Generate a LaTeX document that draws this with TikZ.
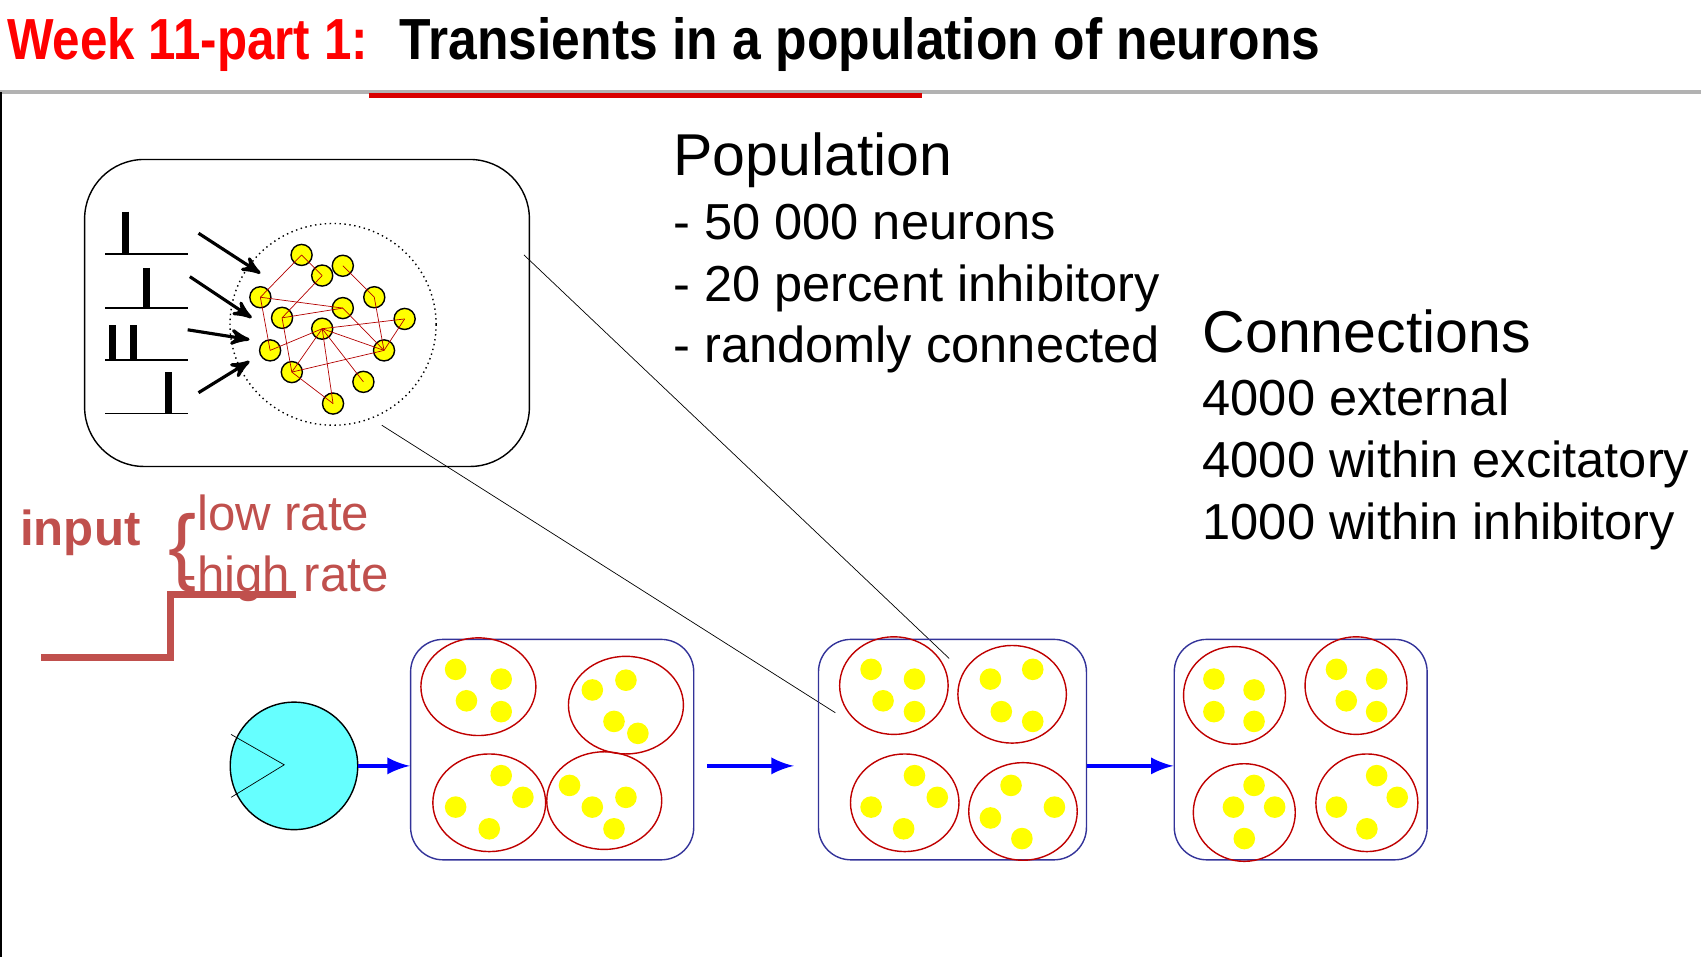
\documentclass[tikz,border=0pt]{standalone}
\usepackage{fontspec}
\setmainfont{Liberation Sans}
\usetikzlibrary{arrows,positioning}
\definecolor{titlered}{RGB}{255,0,0}
\definecolor{inred}{RGB}{192,80,77}
\definecolor{navy}{RGB}{51,51,153}
\definecolor{cyanfill}{RGB}{102,255,255}
\definecolor{dotyellow}{RGB}{255,255,0}
\newcommand\pxu[1]{#1*0.3075pt}
\tikzset{
  neuron/.style = {circle, draw=black, fill=dotyellow, inner sep=0pt,
    minimum size=\pxu{19.5}},
  dot/.style = {circle, fill=dotyellow, inner sep=0pt, minimum size=\pxu{20}},
  popbox/.style = {draw=navy, rounded corners=\pxu{30}, thin, inner sep=0pt},
  group/.style = {draw=red!75!black, thin},
  link/.style = {draw=red!70!black, very thin},
  bluearrow/.style = {-latex, draw=blue, line width=1.2pt},
  txt/.style = {anchor=base west, inner sep=0pt},
}
\begin{document}
\begin{tikzpicture}[x=0.1085mm,y=-0.1085mm]
\useasboundingbox (0,0) rectangle (1568,882);
% title
\node[txt, text=titlered] (week) at (6,55) {\scalebox{0.85}[1]{\fontsize{16.5pt}{18pt}\selectfont\bfseries Week 11-part 1:}};
\node[txt] (title) at (368,55) {\scalebox{0.89}[1]{\fontsize{16.5pt}{18pt}\selectfont\bfseries Transients in a population of neurons}};
\draw[gray!60, line width=1pt] (0,85) -- (1568,85);
\draw[red!85!black, line width=1.2pt] (340,88) -- (850,88);
\draw[black] (1,85) -- (1,882);
% zoomed inset
\draw[black, rounded corners=\pxu{55}] (78,147) rectangle (488,430);
\draw[black, densely dotted] (307,299) ellipse [x radius=95, y radius=93];
\foreach \y in {234,284,332,381} \draw (97,\y) -- (173,\y);
\foreach \x/\ya/\yb in {116/195/234, 135/247/284, 104/300/332, 123/300/332, 155/343/381}
  \draw[line width=2pt] (\x,\ya) -- (\x,\yb);
\foreach \xa/\ya/\xb/\yb in {183/215/240/252, 175/255/232/293, 173/304/230/313, 183/362/230/333}
  \draw[->, >=stealth', line width=0.9pt] (\xa,\ya) -- (\xb,\yb);
\foreach \n/\x/\y in {1/278/235, 2/297/254, 3/316/245, 4/240/274, 5/345/274, 6/316/284,
  7/260/293, 8/373/294, 9/297/303, 10/249/323, 11/354/323, 12/269/343, 13/335/352, 14/307/372}
  \node[neuron] (n\n) at (\x,\y) {};
\foreach \a/\b in {1/4, 1/2, 3/5, 4/6, 2/7, 7/6, 4/10, 7/12, 10/9, 9/8, 9/11, 5/11, 6/11,
  8/11, 12/11, 12/14, 9/14, 9/13, 9/12}
  \draw[link] (n\a.center) -- (n\b.center);
% population text
\node[txt] (pophead) at (620,162) {\fontsize{16.8pt}{18pt}\selectfont Population};
\node[txt] (pop1) at (620,221) {\fontsize{14.4pt}{16pt}\selectfont - 50 000 neurons};
\node[txt] (pop2) at (620,278) {\fontsize{14.4pt}{16pt}\selectfont - 20 percent inhibitory};
\node[txt] (pop3) at (620,334) {\fontsize{14.4pt}{16pt}\selectfont - randomly connected};
\node[txt] (conhead) at (1108,325) {\fontsize{16.8pt}{18pt}\selectfont Connections};
\node[txt] (con1) at (1108,383) {\fontsize{14.4pt}{16pt}\selectfont 4000 external};
\node[txt] (con2) at (1108,440) {\fontsize{14.4pt}{16pt}\selectfont 4000 within excitatory};
\node[txt] (con3) at (1108,497) {\fontsize{14.4pt}{16pt}\selectfont 1000 within inhibitory};
% input
\node[txt, text=inred] (input) at (18,503) {\fontsize{14pt}{16pt}\selectfont\bfseries input};
\node[txt, text=inred] (brace) at (155,530) {\fontsize{24pt}{24pt}\selectfont\{};
\node[txt, text=inred] (low) at (166,489) {\fontsize{14pt}{16pt}\selectfont -low rate};
\node[txt, text=inred] (high) at (166,545) {\fontsize{14pt}{16pt}\selectfont -high rate};
\draw[inred, line width=2pt] (38,606) -- (157,606) -- (157,548) -- (273,548);
% zoom lines
\coordinate (za) at (483,235);
\coordinate (zb) at (875,607);
\coordinate (zc) at (352,392);
\coordinate (zd) at (770,657);
\draw[very thin] (za) -- (zb);
\draw[very thin] (zc) -- (zd);
% stimulus
\node[draw=black, fill=cyanfill, circle, minimum size=\pxu{118}, inner sep=0pt] (stim) at (271,706) {};
\draw[very thin] (213,677) -- (262,705) -- (213,735);
% populations
\node[popbox, minimum width=\pxu{262}, minimum height=\pxu{204}] (box1) at (509,691) {};
\node[popbox, minimum width=\pxu{248}, minimum height=\pxu{204}] (box2) at (878,691) {};
\node[popbox, minimum width=\pxu{234}, minimum height=\pxu{204}] (box3) at (1199,691) {};
\draw[bluearrow] (stim.east) -- ([shift={(0,15)}]box1.west);
\draw[bluearrow] ([shift={(12,15)}]box1.east) -- ([shift={(-22,15)}]box2.west);
\draw[bluearrow] ([shift={(0,15)}]box2.east) -- ([shift={(0,15)}]box3.west);
\foreach \x/\y/\rx in {441/633/53, 577/650/53, 451/740/52, 557/738/53,
  824/632/50, 933/640/50, 834/740/50, 943/748/50,
  1138/641/47, 1250/632/47, 1147/749/47, 1260/740/47}
  \draw[group] (\x,\y) ellipse [x radius=\rx, y radius=45];
\foreach \x/\y in {420/617, 462/626, 430/646, 462/656, 546/636, 577/627, 566/665, 588/676,
  462/715, 482/735, 420/744, 451/764, 525/724, 546/744, 577/735, 566/764,
  803/617, 843/626, 814/646, 843/656, 913/626, 952/617, 923/656, 952/665,
  843/715, 864/735, 803/744, 833/764, 932/724, 913/754, 972/744, 942/773,
  1119/626, 1156/636, 1119/656, 1156/665, 1232/617, 1269/626, 1241/646, 1269/656,
  1156/724, 1175/744, 1137/744, 1147/773, 1269/715, 1288/735, 1232/744, 1260/764}
  \node[dot] at (\x,\y) {};
\end{tikzpicture}
\end{document}
